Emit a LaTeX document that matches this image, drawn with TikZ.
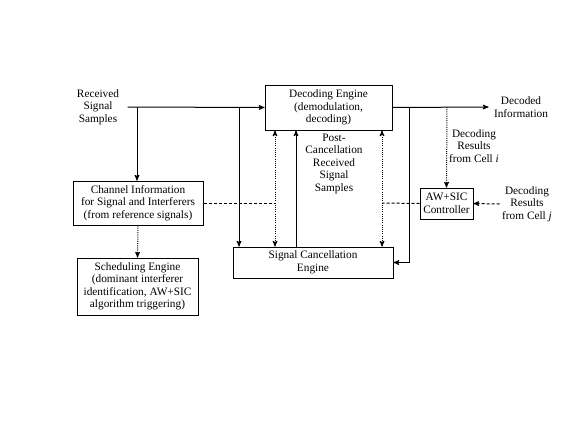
\documentclass[tikz,border=0pt]{standalone}
\usepackage{fontspec}
\setmainfont{Liberation Serif}
\usetikzlibrary{arrows,shapes,chains}

\begin{document}
\begin{tikzpicture}[->,>=stealth',auto,line width=1pt,x=1pt,y=-1pt,
                block/.style={shape=rectangle,draw=black,align=center,inner sep=0pt},
                lbl/.style={align=center,inner sep=2pt},
                dots/.style={dash pattern=on 1pt off 1.2pt},
                dashes/.style={dash pattern=on 3pt off 2pt},
                font=\fontsize{11.3}{12.5}\selectfont]
                \useasboundingbox (0,0) rectangle (587,437);
                \node[lbl,inner xsep=8pt](rss)at(98, 107){Received\\Signal\\Samples};
                \node[block,minimum width=127pt,minimum height=45pt](de)at(328.5, 107.5){Decoding Engine\\(demodulation,\\decoding)};
                \node[lbl,inner xsep=5pt](di)at(521, 107){Decoded\\Information};
                \node[lbl](dri)at(474, 146){Decoding\\Results\\from Cell \textit{i}};
                \node[block,minimum width=53pt,minimum height=31pt](aw)at(446.5, 203.5){AW+SIC\\Controller};
                \node[lbl](drj)at(527, 204){Decoding\\Results\\from Cell \textit{j}};
                \node[block,minimum width=130pt,minimum height=44pt](ch)at(138, 203){Channel Information\\for Signal and Interferers\\(from reference signals)};
                \node[block,minimum width=121pt,minimum height=57pt](sch)at(137.5, 286.5){Scheduling Engine\\(dominant interferer\\identification, AW+SIC\\algorithm triggering)};
                \node[block,minimum width=160pt,minimum height=31pt](sce)at(313, 262.5){Signal Cancellation\\Engine};
                \node[lbl](pcl)at(334, 163.5){Post-\\Cancellation\\Received\\Signal\\Samples};
                \coordinate(j1)at(137, 107);
                \coordinate(j2)at(239, 107);
                \coordinate(j3)at(409, 107);
                \coordinate(j4)at(447, 107);
                \coordinate(c1)at(275, 203);
                \coordinate(c2)at(382, 203);
                \coordinate(c3)at(296, 203);
                \path[](rss.east) edge (de.west)
                (j1) edge (j1 |- ch.north)
                (j2) edge (j2 |- sce.north)
                (de.east) edge (di.west)
                (c3 |- sce.north) edge (c3 |- de.south)
                (ch.south) edge [dots] (sch.north)
                (j4) edge [dots] (aw.north)
                (drj.west) edge [dashes] (aw.east)
                (c1 |- de.south) edge [<->,dots] (c1 |- sce.north)
                (c2 |- de.south) edge [<->,dots] (c2 |- sce.north)
                (ch.east) edge [-,dashes] (c1)
                (aw.west) edge [-,dashes] (c2);
                \draw (j3) |- (sce.east);
            \end{tikzpicture}
\end{document}
